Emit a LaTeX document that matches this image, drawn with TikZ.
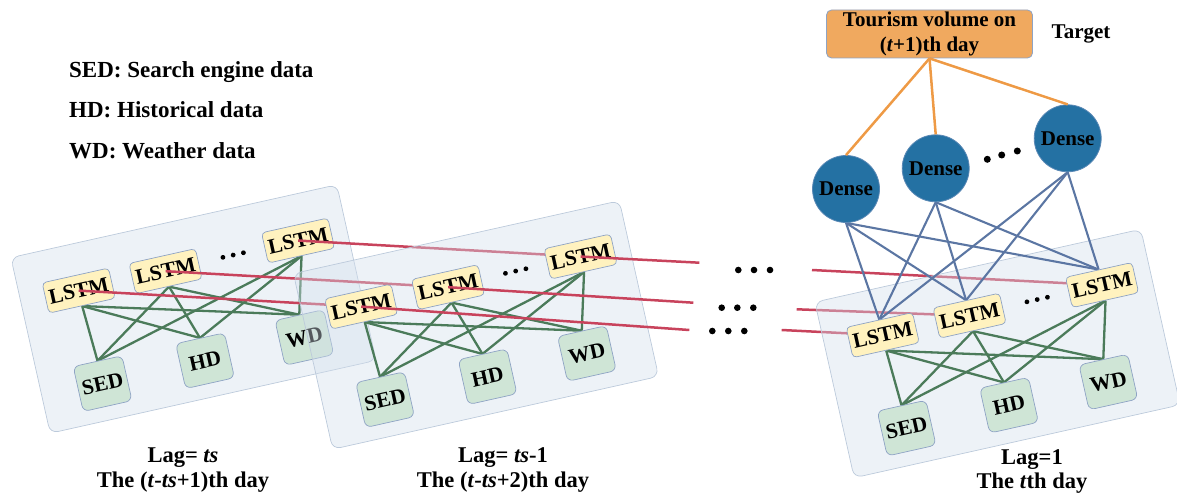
\documentclass[tikz,border=0pt]{standalone}
\usepackage{fontspec}
\setmainfont{Liberation Serif}
\definecolor{panelfill}{HTML}{D3DFEC}
\definecolor{panelborder}{HTML}{BCCADB}
\definecolor{lstmfill}{HTML}{FFF2BF}
\definecolor{nodeborder}{HTML}{8EA3C4}
\definecolor{inputfill}{HTML}{CFE5D6}
\definecolor{densefill}{HTML}{2471A3}
\definecolor{denseborder}{HTML}{5A88B5}
\definecolor{targetfill}{HTML}{F0A95F}
\definecolor{redline}{HTML}{C8435C}
\definecolor{greenline}{HTML}{4B7B5A}
\definecolor{blueline}{HTML}{5B76A3}
\definecolor{orangeline}{HTML}{EE9A45}
\pgfdeclarelayer{pA}\pgfdeclarelayer{lA}\pgfdeclarelayer{nA}\pgfdeclarelayer{rA}
\pgfdeclarelayer{pB}\pgfdeclarelayer{lB}\pgfdeclarelayer{nB}\pgfdeclarelayer{rB}
\pgfdeclarelayer{rC}\pgfdeclarelayer{pC}\pgfdeclarelayer{lC}\pgfdeclarelayer{nC}
\pgfsetlayers{pA,lA,nA,rA,pB,lB,nB,rB,rC,pC,lC,nC,main}
\newcommand\mkpanel[5]{%
  \begin{scope}[shift={#2},rotate=12.6,transform shape]
    \begin{pgfonlayer}{#3}
      \node[panelbox] (#1pan) at (0,0) {};
    \end{pgfonlayer}
    \begin{pgfonlayer}{#5}
      \node[lstmbox] (#1l1) at (-108,43) {LSTM};
      \node[lstmbox] (#1l2) at (-19,43) {LSTM};
      \node[lstmbox] (#1l3) at (117,44) {LSTM};
      \node[inbox] (#1sed) at (-105,-53) {SED};
      \node[inbox] (#1hd) at (0,-53) {HD};
      \node[inbox] (#1wd) at (102,-52) {WD};
      \fill (40,44) circle (2.4) (50.5,44) circle (2.4) (61,44) circle (2.4);
    \end{pgfonlayer}
    \begin{pgfonlayer}{#4}
      \foreach \ii in {1,2,3}{\foreach \jj in {sed,hd,wd}{\draw[gline] (#1l\ii.south) -- (#1\jj.north);}}
    \end{pgfonlayer}
  \end{scope}}
\begin{document}
\begin{tikzpicture}[x=1pt,y=1pt,
  panelbox/.style={draw=panelborder, line width=0.7pt, fill=panelfill, fill opacity=0.4, rounded corners=8pt, minimum width=334pt, minimum height=180pt, inner sep=0pt},
  lstmbox/.style={draw=nodeborder, line width=0.7pt, fill=lstmfill, rounded corners=4pt, minimum width=68pt, minimum height=31pt, inner sep=0pt, font={\fontsize{21.5}{24}\selectfont\bfseries}},
  inbox/.style={draw=nodeborder, line width=0.7pt, fill=inputfill, rounded corners=6pt, minimum width=50pt, minimum height=46pt, inner sep=0pt, font={\fontsize{21.5}{24}\selectfont\bfseries}},
  densenode/.style={circle, draw=denseborder, line width=0.8pt, fill=densefill, minimum size=67pt, inner sep=0pt, font={\fontsize{21}{24}\selectfont\bfseries}},
  targetbox/.style={draw=nodeborder, line width=0.8pt, fill=targetfill, rounded corners=5pt, minimum width=206pt, minimum height=48pt, inner sep=0pt, align=center, font={\fontsize{21}{25}\selectfont\bfseries}},
  txt/.style={inner sep=0pt, font={\fontsize{21}{24}\selectfont\bfseries}},
  legend/.style={inner sep=0pt, anchor=base west, font={\fontsize{23}{27}\selectfont\bfseries}},
  lagtext/.style={inner sep=0pt, anchor=base, font={\fontsize{22.5}{26}\selectfont\bfseries}},
  rline/.style={draw=redline, line width=2.5pt},
  gline/.style={draw=greenline, line width=2.3pt},
  bline/.style={draw=blueline, line width=2.1pt},
  oline/.style={draw=orangeline, line width=2.5pt},
  bigdot/.style={fill=black}
]
\useasboundingbox (0,0) rectangle (1177,496);

% legend
\node[legend] (legSED) at (69,418.7) {SED: Search engine data};
\node[legend] (legHD) at (69,378.7) {HD: Historical data};
\node[legend] (legWD) at (69,337.7) {WD: Weather data};

% panels
\mkpanel{A}{(193.5,187)}{pA}{lA}{nA}
\mkpanel{B}{(476,171)}{pB}{lB}{nB}
\mkpanel{C}{(997.5,142.5)}{pC}{lC}{nC}

% lag labels
\node[lagtext] (lagA) at (183,34) {Lag= \textit{ts}};
\node[lagtext] (dayA) at (183,9) {The (\textit{t}-\textit{ts}+1)th day};
\node[lagtext] (lagB) at (503,34) {Lag= \textit{ts}-1};
\node[lagtext] (dayB) at (503,9) {The (\textit{t}-\textit{ts}+2)th day};
\node[lagtext] (lagC) at (1032,32) {Lag=1};
\node[lagtext] (dayC) at (1032,8) {The \textit{t}th day};

% free ends of the red lines
\coordinate (eA1) at (689.3,166);
\coordinate (eA2) at (693.3,193.3);
\coordinate (eA3) at (699.3,233.3);
\coordinate (sC1) at (781.7,166);
\coordinate (sC2) at (796.7,186.7);
\coordinate (sC3) at (812,226);

\begin{pgfonlayer}{rA}
  \draw[rline] (Al1.center) -- (Bl1.center);
  \draw[rline] (Al2.center) -- (Bl2.center);
  \draw[rline] (Al3.center) -- (Bl3.center);
\end{pgfonlayer}
\begin{pgfonlayer}{rB}
  \draw[rline] (Bl1.center) -- (eA1);
  \draw[rline] (Bl2.center) -- (eA2);
  \draw[rline] (Bl3.center) -- (eA3);
\end{pgfonlayer}
\begin{pgfonlayer}{rC}
  \draw[rline] (sC1) -- (Cl1.center);
  \draw[rline] (sC2) -- (Cl2.center);
  \draw[rline] (sC3) -- (Cl3.center);
\end{pgfonlayer}

% middle dots
\fill[bigdot] (738.3,226) circle (3.3) (754,226) circle (3.3) (770,226) circle (3.3);
\fill[bigdot] (721.7,188.3) circle (3.3) (737.3,188.3) circle (3.3) (753.3,188.3) circle (3.3);
\fill[bigdot] (712.3,165) circle (3.3) (728.3,165) circle (3.3) (744.3,165) circle (3.3);

% dense layer and target
\node[densenode] (D1) at (846,307) {Dense};
\node[densenode] (D2) at (935.7,327.7) {Dense};
\node[densenode] (D3) at (1067.7,357.7) {Dense};
\fill[bigdot] (987.3,336.7) circle (3.5) (1001.7,341) circle (3.5) (1017.3,345) circle (3.5);
\node[targetbox] (tgt) at (929.5,462) {Tourism volume on\\(\textit{t}+1)th day};
\node[txt] (tgtlabel) at (1081,461.7) {Target};

\begin{pgfonlayer}{lC}
  \foreach \dd in {1,2,3}{\foreach \ii in {1,2,3}{\draw[bline] (D\dd.south) -- (Cl\ii.north);}}
\end{pgfonlayer}

\draw[oline] (tgt.south) -- (D1.north);
\draw[oline] (tgt.south) -- (D2.north);
\draw[oline] (tgt.south) -- (D3.north);
\end{tikzpicture}
\end{document}
